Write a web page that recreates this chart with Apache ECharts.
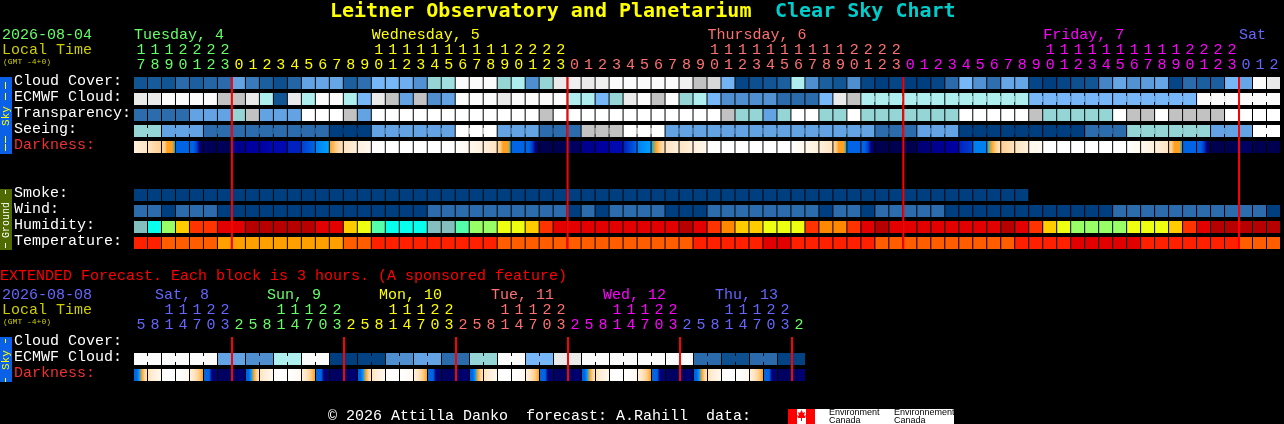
<!DOCTYPE html>
<html>
<head>
<meta charset="utf-8">
<style>html,body{margin:0;padding:0;background:#000}#c{width:1284px;height:424px}</style>
<script src="https://cdn.jsdelivr.net/npm/echarts@6/dist/echarts.min.js"></script>
</head>
<body>
<div id="c"></div>
<script>
// ---------- tick labels ----------
const mainHours = [17,18,19,20,21,22,23,
 0,1,2,3,4,5,6,7,8,9,10,11,12,13,14,15,16,17,18,19,20,21,22,23,
 0,1,2,3,4,5,6,7,8,9,10,11,12,13,14,15,16,17,18,19,20,21,22,23,
 0,1,2,3,4,5,6,7,8,9,10,11,12,13,14,15,16,17,18,19,20,21,22,23,
 0,1,2];
const mainHourDay = [0,0,0,0,0,0,0,
 1,1,1,1,1,1,1,1,1,1,1,1,1,1,1,1,1,1,1,1,1,1,1,1,
 2,2,2,2,2,2,2,2,2,2,2,2,2,2,2,2,2,2,2,2,2,2,2,2,
 3,3,3,3,3,3,3,3,3,3,3,3,3,3,3,3,3,3,3,3,3,3,3,3,
 4,4,4];
const mainDayNames = ['Tuesday, 4','Wednesday, 5','Thursday, 6','Friday, 7','Sat'];
const mainDayCols = [0,17,41,65,79];
const mainDayColors = ['#66FF66','#FFFF00','#FF7070','#FF00FF','#6666FF'];
const mainMidnights = [7,31,55,79];

const extHours = [5,8,11,14,17,20,23,
 2,5,8,11,14,17,20,23, 2,5,8,11,14,17,20,23, 2,5,8,11,14,17,20,23,
 2,5,8,11,14,17,20,23, 2,5,8,11,14,17,20,23, 2];
const extHourDay = [0,0,0,0,0,0,0,
 1,1,1,1,1,1,1,1, 2,2,2,2,2,2,2,2, 3,3,3,3,3,3,3,3,
 4,4,4,4,4,4,4,4, 5,5,5,5,5,5,5,5, 6];
const extDayNames = ['Sat, 8','Sun, 9','Mon, 10','Tue, 11','Wed, 12','Thu, 13'];
const extDayCols = [1,9,17,25,33,41];
const extDayColors = ['#6666FF','#66FF66','#FFFF00','#FF7070','#FF00FF','#6666FF','#66FF66'];
const extMidnights = [7,15,23,31,39,47];

const mainRowNames = ['Cloud Cover:','ECMWF Cloud:','Transparency:','Seeing:','Darkness:',' ','  ','Smoke:','Wind:','Humidity:','Temperature:'];
const extRowNames = ['Cloud Cover:','ECMWF Cloud:','Darkness:'];

// ---------- values ----------
// cloud cover, percent
const cloudCover = [10,12,10,20,15,18,20,40,25,15,8,18,40,42,42,15,22,50,50,45,32,60,65,100,100,100,60,70,30,60,90,92,90,92,100,100,100,100,100,92,80,85,48,3,8,10,15,70,30,15,10,30,
 3,0,3,0,0,3,20,50,32,22,42,42,3,0,3,8,10,28,42,32,38,42,3,20,15,15,50,42,100,90];
const ecmwfCloud = [90,90,100,100,100,100,80,80,90,70,10,90,70,100,100,70,50,90,80,40,80,30,40,100,100,100,90,100,100,100,100,70,70,50,60,90,100,80,100,60,70,50,30,30,30,32,20,20,20,50,90,80,
 70,70,70,70,70,70,70,70,70,70,70,70,50,50,50,50,50,50,50,50,50,50,50,50,100,100,100,100,100,100];
// sky transparency / seeing class: 0 best .. 4 poor, 5 too cloudy
const transparency = [1,1,1,1,2,2,2,3,4,2,2,2,5,5,5,4,2,5,5,5,5,5,5,5,5,5,5,5,5,4,5,5,5,5,5,5,5,5,5,5,5,5,4,3,3,2,3,5,5,3,3,5,
 3,3,3,3,3,3,3,5,5,5,5,5,4,3,3,3,3,3,5,4,4,5,4,4,4,4,5,5,5,5];
const seeing = [3,3,2,2,2,1,1,1,1,1,1,1,1,1,0,0,0,2,2,2,2,2,2,5,5,5,2,2,2,1,1,1,4,4,4,5,5,5,2,2,2,2,2,2,2,2,2,2,2,2,2,2,2,
 1,1,1,2,2,2,0,0,0,0,0,0,0,0,0,1,1,1,3,3,3,3,3,3,2,2,2,5,5];
// darkness: stages across each block, 0 daylight .. 17 darkest night
const darkness = [[2,3],[3,4],[4,4,5,5,5,6],[9],[9,9,10,15,16],[16,17],[16,17],
 [14],[13],[13,12],[12],[11],[10,9],[8,7],[5,4,3],[3,2],[2,1],[0],[0],[0],[0],[0],[0],[0,1],[1,2],[2,3],[4,4,5,5,5,6],[9],[9,9,10,15,16],[17],[17],
 [16],[14],[13],[12],[11,9],[8,7],[6,5,4,3],[3,2],[3,2],[2,1],[0],[0],[0],[0],[0],[0],[0,1],[1,2],[2,3],[4,4,5,5,5,6],[9],[9,9,10,15,16],[17],[17],
 [17],[15],[14],[13],[11,10],[8],[6,5,4,3],[4,3],[3,2],[1],[0],[0],[0],[0],[0],[0],[0,1],[1,2],[2,3],[4,4,5,5,5,6],[9],[9,9,10,15,16],[17],[17],
 [16],[17],[17]];
const smoke = [0,0,0,0,0,0,0,0,0,0,0,0,0,0,0,0,0,0,0,0,0,0,0,0,0,0,0,0,0,0,0,0,0,0,0,0,0,0,0,0,0,0,0,0,0,0,0,0,0,0,0,0,0,0,0,0,0,0,0,0,0,0,0,0];
const wind = [1,1,0,1,1,1,0,0,0,0,0,0,0,0,0,0,0,0,0,0,0,1,1,1,1,1,1,1,1,1,1,0,1,0,1,1,1,1,0,0,0,1,1,1,1,1,1,1,1,0,1,1,
 0,1,1,1,1,1,0,0,0,0,0,0,0,0,0,0,0,0,1,1,1,1,1,1,1,1,1,1,1,0];
// humidity class 0 driest .. 9 wettest
const humidity = [0,1,3,5,7,7,8,8,9,9,9,9,9,8,8,5,4,2,1,1,1,0,0,2,3,3,4,4,5,7,8,8,8,8,8,8,8,8,8,9,8,7,6,5,5,4,4,4,7,6,6,7,
 8,9,8,8,8,8,8,8,8,8,9,8,7,5,4,3,3,3,3,4,4,4,5,7,8,9,9,9,9,9];
// temperature class 0 warmest .. 2 coolest
const temperature = [1,1,2,2,2,2,3,3,3,3,3,3,3,3,3,2,2,1,1,1,1,1,1,1,1,1,2,2,2,2,2,2,2,2,2,2,2,2,2,2,1,1,1,1,1,0,0,1,1,1,1,1,
 1,2,2,2,2,2,2,2,2,2,2,1,1,1,1,0,0,0,0,0,1,1,1,1,1,1,1,2,2,2];
// extended forecast
const extEcmwf = [100,100,100,100,100,100,40,40,30,30,70,70,100,100,0,0,2,2,30,30,40,40,20,20,60,60,100,100,50,50,90,90,100,100,100,100,100,100,100,100,20,20,8,8,20,20,2,2];
const extDarkness = [[9,9,7,5,4,3],[3,2,1],[0],[0,1],[2,3,4,5],[9,9,9,15,15,15],[16],[16,15],
 [9,9,7,5,4,3],[3,2,1],[0],[0,1],[2,3,4,5],[9,9,9,15,15,15],[16],[16,15],
 [9,9,7,5,4,3],[3,2,1],[0],[0,1],[2,3,4,5],[9,9,9,15,15,15],[16],[16,15],
 [9,9,7,5,4,3],[3,2,1],[0],[0,1],[2,3,4,5],[9,9,9,15,15,15],[16],[16,15],
 [9,9,7,5,4,3],[3,2,1],[0],[0,1],[2,3,4,5],[9,9,9,15,15,15],[16],[16,15],
 [9,9,7,5,4,3],[3,2,1],[0],[0,1],[2,3,4,5],[9,9,9,15,15,15],[16],[16,15]];

// ---------- colours ----------
const cloudShades = [[0,'#003F7F'],[2,'#044383'],[3,'#064686'],[8,'#0E4F8F'],[10,'#125595'],[12,'#175B9B'],[15,'#1C5F9F'],[18,'#2465A5'],[20,'#2B6BAB'],[22,'#2F6FAF'],[25,'#3A7ABA'],[28,'#4585C5'],[30,'#4F8FCF'],[32,'#5292D2'],[38,'#5C9CDC'],[40,'#63A3E3'],[42,'#66A6E6'],[45,'#6FAFEF'],[48,'#73B3F3'],[50,'#77B7F7'],[60,'#95D5D5'],[65,'#A0E0E0'],[70,'#AEEEEE'],[80,'#C2C2C2'],[85,'#D8D8D8'],[90,'#EAEAEA'],[92,'#F0F0F0'],[100,'#FBFBFB']];
const skyClassColors = ['#003F7F','#2C6CAC','#63A3E3','#95D5D5','#C2C2C2','#FFFFFF'];
const darkRamp = ['#FFFFFF','#FFF8EE','#FFF0DC','#FFE4C0','#FFCF90','#FFA020','#00B0E0','#00A0FF','#0080F0','#0064E4','#0040D0','#0020C0','#0008B0','#0000A0','#000090','#000078','#000060','#000050'];
const smokeColors = ['#003F7F'];
const windColors = ['#003F7F','#2C6CAC'];
const humidityColors = ['#85BEBE','#08FFEE','#55FFAA','#99FF66','#EEFF11','#FFCC00','#FF8800','#FF3300','#E30000','#B70000'];
const temperatureColors = ['#E30000','#FF2000','#FF5D00','#FFA000'];
const MONO = '"Liberation Mono", monospace';
const TITLE_FONT = '"DejaVu Sans Mono", monospace';

function cloudColor(v){ const hit = cloudShades.find(s => s[0] === v); return hit ? hit[1] : '#000'; }
function rampFill(stages){
  if (stages.length === 1) return darkRamp[stages[0]];
  const last = stages.length - 1;
  return new echarts.graphic.LinearGradient(0,0,1,0, stages.map((s,k)=>({offset:k/last,color:darkRamp[s]})));
}
// blocks that the source draws joined by a small bridge
function joinMain(row,i){
  if (row === 3) return i === 0 || (i >= 2 && (i-2)%3 !== 2 && i < 81) || i === 80;
  if (row === 1) return i >= 52 && (i-52)%6 !== 5 && i < 81;
  return false;
}
function joinExt(i){ return i % 2 === 0; }

function buildRow(out, values, row, fillOf, joinOf){
  values.forEach((v,i)=>{ out.push({value:[i,row,joinOf && joinOf(i)?1:0], fill:fillOf(v)}); });
}
const mainCells = [], extCells = [];
buildRow(mainCells, cloudCover, 0, cloudColor);
buildRow(mainCells, ecmwfCloud, 1, cloudColor, i=>joinMain(1,i));
buildRow(mainCells, transparency, 2, v=>skyClassColors[v]);
buildRow(mainCells, seeing, 3, v=>skyClassColors[v], i=>joinMain(3,i));
buildRow(mainCells, darkness, 4, rampFill);
buildRow(mainCells, smoke, 7, v=>smokeColors[v]);
buildRow(mainCells, wind, 8, v=>windColors[v]);
buildRow(mainCells, humidity, 9, v=>humidityColors[v]);
buildRow(mainCells, temperature, 10, v=>temperatureColors[v]);
buildRow(extCells, extEcmwf, 1, cloudColor, joinExt);
buildRow(extCells, extDarkness, 2, rampFill);

function cellRenderer(list){
  return function(params, api){
    const c = api.coord([api.value(0), api.value(1)]);
    const x = c[0]-7, y = c[1]-6;
    const fill = list[params.dataIndex].fill;
    const kids = [{type:'rect',shape:{x:x,y:y,width:13,height:12},style:{fill:fill}}];
    if (api.value(2)) kids.push({type:'rect',shape:{x:x+13,y:y+3,width:1,height:6},style:{fill:fill}});
    return {type:'group',children:kids};
  };
}
function lineRenderer(params, api){
  const a = api.coord([api.value(0), api.value(1)]);
  const b = api.coord([api.value(0), api.value(2)]);
  return {type:'rect',shape:{x:a[0]-8,y:a[1]-6,width:2,height:b[1]-a[1]+12},style:{fill:'#FF0000'}};
}
function xAxes(gridIndex, hours, hourDay, colors, dayNames, dayCols, dayAlignBoundary){
  const units = hours.map(h=>String(h%10));
  const tens = hours.map(h=>h>=10?String(Math.floor(h/10)):'');
  const base = {type:'category',gridIndex:gridIndex,position:'top',axisLine:{show:false},axisTick:{show:false},splitLine:{show:false}};
  const lab = {interval:0,fontFamily:MONO,fontSize:15,margin:2,hideOverlap:false,color:(v,i)=>colors[hourDay[i]]};
  const slots = dayAlignBoundary ? hours.length+1 : hours.length;
  const dayData = new Array(slots).fill('');
  dayCols.forEach((c,k)=>{dayData[c]=dayNames[k];});
  return [
    Object.assign({},base,{data:units,offset:0,axisLabel:lab}),
    Object.assign({},base,{data:tens,offset:15,axisLabel:lab}),
    Object.assign({},base,{data:dayData,offset:30,boundaryGap:!dayAlignBoundary,
      axisLabel:Object.assign({},lab,{align:'left',color:v=>colors[dayNames.indexOf(v)]||'#000'})})
  ];
}
function yAxis(gridIndex,names){
  return {type:'category',gridIndex:gridIndex,inverse:true,data:names,axisLine:{show:false},axisTick:{show:false},splitLine:{show:false},
    axisLabel:{interval:0,align:'left',margin:120,fontFamily:MONO,fontSize:15,verticalAlign:'bottom',lineHeight:3,hideOverlap:false,
      color:v=>v==='Darkness:'?'#F03030':'#FFFFFF'}};
}
function txt(x,y,text,color,size,opt){
  opt = opt || {};
  return {type:'text',x:x,y:y,silent:true,style:{x:0,y:0,text:text,fill:color,font:(opt.weight||'')+' '+size+'px '+(opt.family||MONO),verticalAlign:'middle',align:'left'}};
}
function box(x,y,w,h,color){return {type:'rect',silent:true,shape:{x:x,y:y,width:w,height:h},style:{fill:color}};}
const SKY='#0A60E6', GROUND='#4F6A00';
const graphics = [
  txt(330,12,'Leitner Observatory and Planetarium','#FFFF00',20,{weight:'bold',family:TITLE_FONT}),
  txt(775,12,'Clear Sky Chart','#00CCCC',20,{weight:'bold',family:TITLE_FONT}),
  txt(2,35,'2026-08-04','#66FF66',15), txt(2,50,'Local Time','#CCCC00',15), txt(3,62,'(GMT -4+0)','#CCCC00',8),
  txt(0,276,'EXTENDED Forecast. Each block is 3 hours. (A sponsored feature)','#FF0000',15),
  txt(2,295,'2026-08-08','#6666FF',15), txt(2,310,'Local Time','#CCCC00',15), txt(3,322,'(GMT -4+0)','#CCCC00',8),
  txt(328,416,'© 2026 Attilla Danko  forecast: A.Rahill  data:','#FFFFFF',15),
  box(0,77,12,77,SKY), box(5,82,1,7,'#FFFF00'), box(5,93,1,7,'#FFFF00'), box(5,136,1,7,'#FFFF00'), box(5,144,1,7,'#FFFF00'),
  box(0,189,12,61,GROUND), box(5,190,1,4,'#FFFFFF'), box(5,243,1,5,'#FFFFFF'),
  box(0,337,12,45,SKY), box(5,339,1,4,'#FFFF00'), box(5,378,1,4,'#FFFF00'),
  box(788,409,166,15,'#FFFFFF'), box(788,409,9,15,'#FF0000'), box(806,409,9,15,'#FF0000'),
  {type:'polygon',silent:true,shape:{points:[[801.5,410],[803,413],[805,412],[804,416],[806,415],[805,418],[802,418],[802,421],[801,421],[801,418],[798,418],[797,415],[799,416],[798,412],[800,413]]},style:{fill:'#FF0000'}},
  {type:'text',x:829,y:409,silent:true,style:{x:0,y:0,text:'Environment\nCanada',fill:'#000',font:'9px "Liberation Sans"',lineHeight:8}},
  {type:'text',x:894,y:409,silent:true,style:{x:0,y:0,text:'Environnement\nCanada',fill:'#000',font:'9px "Liberation Sans"',lineHeight:8}}
];
graphics.push({type:'text',silent:true,x:6,y:116,rotation:Math.PI/2,style:{text:'Sky',fill:'#FFFF00',font:'11px '+MONO,align:'center',verticalAlign:'middle'}});
graphics.push({type:'text',silent:true,x:6,y:220,rotation:Math.PI/2,style:{text:'Ground',fill:'#FFFFFF',font:'10px '+MONO,align:'center',verticalAlign:'middle'}});
graphics.push({type:'text',silent:true,x:6,y:360,rotation:Math.PI/2,style:{text:'Sky',fill:'#FFFF00',font:'11px '+MONO,align:'center',verticalAlign:'middle'}});

const chart = echarts.init(document.getElementById('c'),null,{renderer:'canvas',width:1284,height:424});
chart.setOption({
  backgroundColor:'#000000',
  animation:false,
  tooltip:{show:false},
  grid:[
    {left:134,top:75,width:14*mainHours.length,height:16*mainRowNames.length,containLabel:false},
    {left:134,top:335,width:14*extHours.length,height:16*extRowNames.length,containLabel:false}
  ],
  xAxis:[].concat(
    xAxes(0,mainHours,mainHourDay,mainDayColors,mainDayNames,mainDayCols,true),
    xAxes(1,extHours,extHourDay,extDayColors,extDayNames,extDayCols,false)
  ),
  yAxis:[yAxis(0,mainRowNames),yAxis(1,extRowNames)],
  graphic:{elements:graphics},
  series:[
    {type:'custom',xAxisIndex:0,yAxisIndex:0,clip:false,silent:true,encode:{x:0,y:1},renderItem:cellRenderer(mainCells),data:mainCells.map(c=>({value:c.value}))},
    {type:'custom',xAxisIndex:3,yAxisIndex:1,clip:false,silent:true,encode:{x:0,y:1},renderItem:cellRenderer(extCells),data:extCells.map(c=>({value:c.value}))},
    {type:'custom',xAxisIndex:0,yAxisIndex:0,clip:false,silent:true,z:5,encode:{x:0,y:1},renderItem:lineRenderer,data:mainMidnights.map(c=>[c,0,10])},
    {type:'custom',xAxisIndex:3,yAxisIndex:1,clip:false,silent:true,z:5,encode:{x:0,y:1},renderItem:lineRenderer,data:extMidnights.map(c=>[c,0,2])}
  ]
});
</script>
</body>
</html>
